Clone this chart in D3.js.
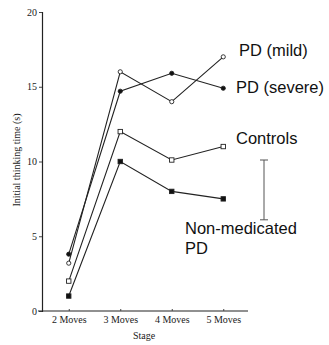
<!DOCTYPE html>
<html>
<head>
<meta charset="utf-8">
<script src="https://cdn.jsdelivr.net/npm/d3@7"></script>
<style>
  body { margin: 0; background: #fff; }
  svg { display: block; }
</style>
</head>
<body>
<svg id="chart" width="329" height="345"></svg>
<script>
'use strict';

// stages along the x axis
const stages = ['2 Moves', '3 Moves', '4 Moves', '5 Moves'];
const yTicks = [0, 5, 10, 15, 20];

// initial thinking time (s) for each group
const pdMild = [3.2, 16.0, 14.0, 17.0];
const pdSevere = [3.8, 14.7, 15.9, 14.9];
const controls = [2.0, 12.0, 10.1, 11.0];
const nonMedicated = [1.0, 10.0, 8.0, 7.5];

// representative error bar (low, high)
const errorBar = [6.1, 10.1];

const series = [
  { name: 'mild', values: pdMild, shape: 'circle', filled: false },
  { name: 'severe', values: pdSevere, shape: 'circle', filled: true },
  { name: 'controls', values: controls, shape: 'square', filled: false },
  { name: 'nonmed', values: nonMedicated, shape: 'square', filled: true }
];

const svg = d3.select('#chart');

const x = d3.scalePoint()
  .domain(stages)
  .range([43, 249])
  .padding(0.5);

const y = d3.scaleLinear()
  .domain([0, 20])
  .range([311, 12]);

/* axes */
const serif = '"Liberation Serif", "DejaVu Serif", serif';

const yAxis = svg.append('g')
  .attr('transform', 'translate(42,0)')
  .call(d3.axisLeft(y).tickValues(yTicks).tickSize(3).tickPadding(2));
const xAxis = svg.append('g')
  .attr('transform', 'translate(0,311)')
  .call(d3.axisBottom(x).tickSizeInner(-2).tickSizeOuter(0).tickPadding(5));

[yAxis, xAxis].forEach(g => {
  g.select('.domain').attr('stroke', '#222').attr('stroke-width', 1.2);
  g.selectAll('.tick line').attr('stroke', '#444');
  g.selectAll('text')
    .attr('fill', '#1a1a1a')
    .style('font-family', serif)
    .style('font-size', '10px');
});
// x axis line spans from the y axis out past the last stage
xAxis.select('.domain').attr('d', 'M38,0H248');

svg.append('text')
  .attr('transform', 'translate(20,160) rotate(-90)')
  .attr('text-anchor', 'middle')
  .attr('fill', '#1a1a1a')
  .style('font-family', serif)
  .style('font-size', '10px')
  .text('Initial thinking time (s)');

svg.append('text')
  .attr('x', 144)
  .attr('y', 339)
  .attr('text-anchor', 'middle')
  .attr('fill', '#1a1a1a')
  .style('font-family', serif)
  .style('font-size', '10px')
  .text('Stage');

/* lines and markers */
const line = d3.line()
  .x((d, i) => x(stages[i]))
  .y(d => y(d));

const plot = svg.append('g').attr('id', 'series');

series.forEach(s => {
  plot.append('path')
    .attr('d', line(s.values))
    .attr('fill', 'none')
    .attr('stroke', '#222')
    .attr('stroke-width', 1.1);
});

series.forEach(s => {
  const fill = s.filled ? '#111' : '#fff';
  const g = plot.append('g');
  if (s.shape === 'circle') {
    g.selectAll('circle')
      .data(s.values)
      .enter().append('circle')
      .attr('cx', (d, i) => x(stages[i]))
      .attr('cy', d => y(d))
      .attr('r', 2.1)
      .attr('fill', fill)
      .attr('stroke', '#222')
      .attr('stroke-width', 0.9);
  } else {
    g.selectAll('rect')
      .data(s.values)
      .enter().append('rect')
      .attr('x', (d, i) => x(stages[i]) - 2.2)
      .attr('y', d => y(d) - 2.2)
      .attr('width', 4.4)
      .attr('height', 4.4)
      .attr('fill', fill)
      .attr('stroke', '#222')
      .attr('stroke-width', 0.9);
  }
});

/* error bar */
const ebX = 264;
const eb = svg.append('g').attr('stroke', '#555').attr('stroke-width', 1);
eb.append('line').attr('x1', ebX).attr('x2', ebX).attr('y1', y(errorBar[1])).attr('y2', y(errorBar[0]));
eb.append('line').attr('x1', ebX - 4).attr('x2', ebX + 4).attr('y1', y(errorBar[1])).attr('y2', y(errorBar[1]));
eb.append('line').attr('x1', ebX - 4).attr('x2', ebX + 4).attr('y1', y(errorBar[0])).attr('y2', y(errorBar[0]));

/* labels */
const sans = '"Liberation Sans", Arial, sans-serif';
const labels = [
  { text: 'PD (mild)', x: 239, y: 56 },
  { text: 'PD (severe)', x: 236, y: 93 },
  { text: 'Controls', x: 236, y: 144 },
  { text: 'Non-medicated', x: 185, y: 234 },
  { text: 'PD', x: 185, y: 254 }
];
svg.append('g').selectAll('text')
  .data(labels)
  .enter().append('text')
  .attr('x', d => d.x)
  .attr('y', d => d.y)
  .attr('fill', '#111')
  .style('font-family', sans)
  .style('font-size', '16.5px')
  .text(d => d.text);
</script>
</body>
</html>
